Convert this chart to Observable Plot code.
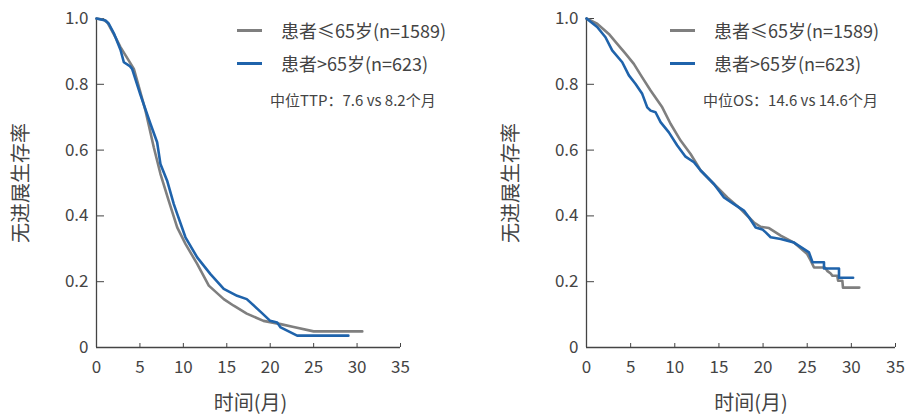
<!DOCTYPE html>
<html><head><meta charset="utf-8">
<script src="https://cdn.jsdelivr.net/npm/d3@7"></script>
<script src="https://cdn.jsdelivr.net/npm/@observablehq/plot@0.6"></script>
<style>
body{margin:0;background:#fff;font-family:"Noto Sans CJK SC","Noto Sans",sans-serif;}
#wrap{position:relative;width:906px;height:419px;overflow:hidden;}
.panel{position:absolute;top:0;}
.leg{position:absolute;color:#444;white-space:nowrap;font-family:"Noto Sans CJK SC",sans-serif;}
.sw{position:absolute;height:3px;}
</style></head><body>
<div id="wrap"></div>
<script>
// ---- data ----
const seriesNames = ["患者≤65岁(n=1589)", "患者>65岁(n=623)"];
const xTicks = [0, 5, 10, 15, 20, 25, 30, 35];
const yTicks = [0, 0.2, 0.4, 0.6, 0.8, 1.0];
const xLabel = "时间(月)";
const yLabel = "无进展生存率";
const statTTP = "中位TTP：7.6 vs 8.2个月";
const statOS = "中位OS：14.6 vs 14.6个月";

// TTP panel, patients <=65
const ttpYoungT = [0, 0.84, 1.3, 2.19, 2.76, 3.72, 4.3, 4.68, 5.64, 6.6, 7.36, 8.32, 9.29, 10.24, 11.59, 12.93, 14.65, 15.8, 17.3, 19.22, 21.2, 22.7, 25.0, 30.6];
const ttpYoungS = [1.0, 0.996, 0.986, 0.943, 0.913, 0.872, 0.847, 0.811, 0.720, 0.608, 0.528, 0.446, 0.365, 0.315, 0.254, 0.188, 0.147, 0.127, 0.103, 0.081, 0.071, 0.062, 0.049, 0.049];
// TTP panel, patients >65
const ttpOldT = [0, 1.04, 1.42, 2.0, 2.76, 3.15, 3.84, 4.1, 5.06, 6.21, 6.98, 7.36, 8.13, 8.9, 9.29, 10.24, 11.59, 13.12, 14.65, 16.19, 17.3, 18.87, 20.0, 20.8, 21.2, 23.1, 29.0];
const ttpOldS = [1.0, 0.994, 0.984, 0.955, 0.905, 0.867, 0.855, 0.847, 0.768, 0.680, 0.624, 0.558, 0.507, 0.436, 0.406, 0.335, 0.274, 0.223, 0.178, 0.157, 0.147, 0.109, 0.081, 0.076, 0.061, 0.036, 0.036];
// OS panel, patients <=65
const osYoungT = [0, 1.21, 2.53, 3.48, 4.42, 5.36, 6.31, 7.26, 8.58, 9.52, 10.66, 11.79, 12.93, 14.43, 15.95, 17.46, 18.97, 19.73, 20.67, 22.0, 23.5, 25.0, 25.4, 25.77, 27.0, 27.3, 27.66, 27.85, 28.4, 28.5, 28.98, 29.05, 30.9];
const osYoungS = [1.0, 0.984, 0.953, 0.923, 0.893, 0.862, 0.821, 0.781, 0.730, 0.680, 0.629, 0.588, 0.538, 0.497, 0.456, 0.421, 0.380, 0.367, 0.363, 0.340, 0.319, 0.284, 0.264, 0.243, 0.243, 0.232, 0.225, 0.218, 0.218, 0.203, 0.203, 0.182, 0.182];
// OS panel, patients >65
const osOldT = [0, 1.21, 2.15, 2.91, 4.05, 4.8, 5.56, 6.31, 6.88, 7.26, 7.82, 8.39, 9.33, 10.28, 11.22, 12.17, 12.93, 14.43, 15.57, 16.7, 17.83, 18.4, 19.16, 19.92, 20.3, 20.86, 22.0, 23.5, 24.64, 25.2, 25.6, 26.9, 26.9, 28.6, 28.6, 30.2];
const osOldS = [1.0, 0.974, 0.943, 0.903, 0.867, 0.827, 0.801, 0.771, 0.730, 0.720, 0.715, 0.685, 0.654, 0.614, 0.580, 0.563, 0.538, 0.497, 0.456, 0.436, 0.416, 0.396, 0.365, 0.359, 0.350, 0.335, 0.330, 0.319, 0.299, 0.289, 0.259, 0.259, 0.240, 0.240, 0.212, 0.212];

const colors = ["#7f7f7f", "#1f63ab"];
const fontFam = '"Noto Sans CJK SC","Noto Sans",sans-serif';

function toRows(t, s, name){ return t.map((v,i)=>({t:v, s:s[i], g:name})); }

function panel({young, old, width, marginLeft, marginRight, xlabDx}){
  const data = [...young, ...old];
  return Plot.plot({
    width, height: 419,
    marginLeft, marginRight, marginTop: 18, marginBottom: 72,
    style: {fontFamily: fontFam, color: "#444", background: "transparent"},
    x: {domain: [0, 35], ticks: xTicks},
    y: {domain: [0, 1], ticks: yTicks},
    color: {domain: seriesNames, range: colors},
    marks: [
      Plot.axisX({ticks: xTicks, tickSize: -4, tickPadding: 17, fontSize: 17, label: null, stroke: "#444"}),
      Plot.axisY({ticks: yTicks, tickSize: -8, tickPadding: 16, fontSize: 17, label: null, stroke: "#444",
        tickFormat: d => d === 0 ? "0" : d.toFixed(1)}),
      Plot.ruleX([0], {stroke: "#444", strokeWidth: 1.3}),
      Plot.ruleY([0], {stroke: "#444", strokeWidth: 1.3}),
      Plot.line(data, {x: "t", y: "s", z: "g", stroke: "g", strokeWidth: 2.6, strokeLinejoin: "round"}),
      Plot.text([yLabel], {frameAnchor: "left", textAnchor: "middle", lineAnchor: "middle", dx: -75, rotate: -90, fontSize: 20, fill: "#444"}),
      Plot.text([xLabel], {frameAnchor: "bottom", textAnchor: "middle", lineAnchor: "middle", dy: 56, dx: xlabDx, fontSize: 20, fill: "#444"})
    ]
  });
}

const wrap = document.getElementById("wrap");
const left = panel({
  young: toRows(ttpYoungT, ttpYoungS, seriesNames[0]),
  old: toRows(ttpOldT, ttpOldS, seriesNames[1]),
  width: 460, marginLeft: 96, marginRight: 60, xlabDx: 2
});
left.classList.add("panel"); left.style.left = "0px";
wrap.appendChild(left);

const right = panel({
  young: toRows(osYoungT, osYoungS, seriesNames[0]),
  old: toRows(osOldT, osOldS, seriesNames[1]),
  width: 446, marginLeft: 126, marginRight: 11, xlabDx: 10
});
right.classList.add("panel"); right.style.left = "460px";
wrap.appendChild(right);

function legend(x0, stat, statX){
  const items = [
    {y: 30, name: seriesNames[0], c: colors[0]},
    {y: 63, name: seriesNames[1], c: colors[1]}
  ];
  items.forEach(it => {
    const sw = document.createElement("div");
    sw.className = "sw";
    sw.style.left = x0 + "px"; sw.style.top = (it.y - 1.5) + "px";
    sw.style.width = "25px"; sw.style.background = it.c;
    wrap.appendChild(sw);
    const tx = document.createElement("div");
    tx.className = "leg";
    tx.style.left = (x0 + 44) + "px"; tx.style.top = (it.y - 13) + "px";
    tx.style.fontSize = "18px"; tx.style.lineHeight = "26px";
    tx.textContent = it.name;
    wrap.appendChild(tx);
  });
  const st = document.createElement("div");
  st.className = "leg";
  st.style.left = statX + "px"; st.style.top = "89px";
  st.style.fontSize = "15px"; st.style.lineHeight = "22px";
  st.textContent = stat;
  wrap.appendChild(st);
}
legend(237, statTTP, 270);
legend(670, statOS, 703);
</script>
</body></html>
